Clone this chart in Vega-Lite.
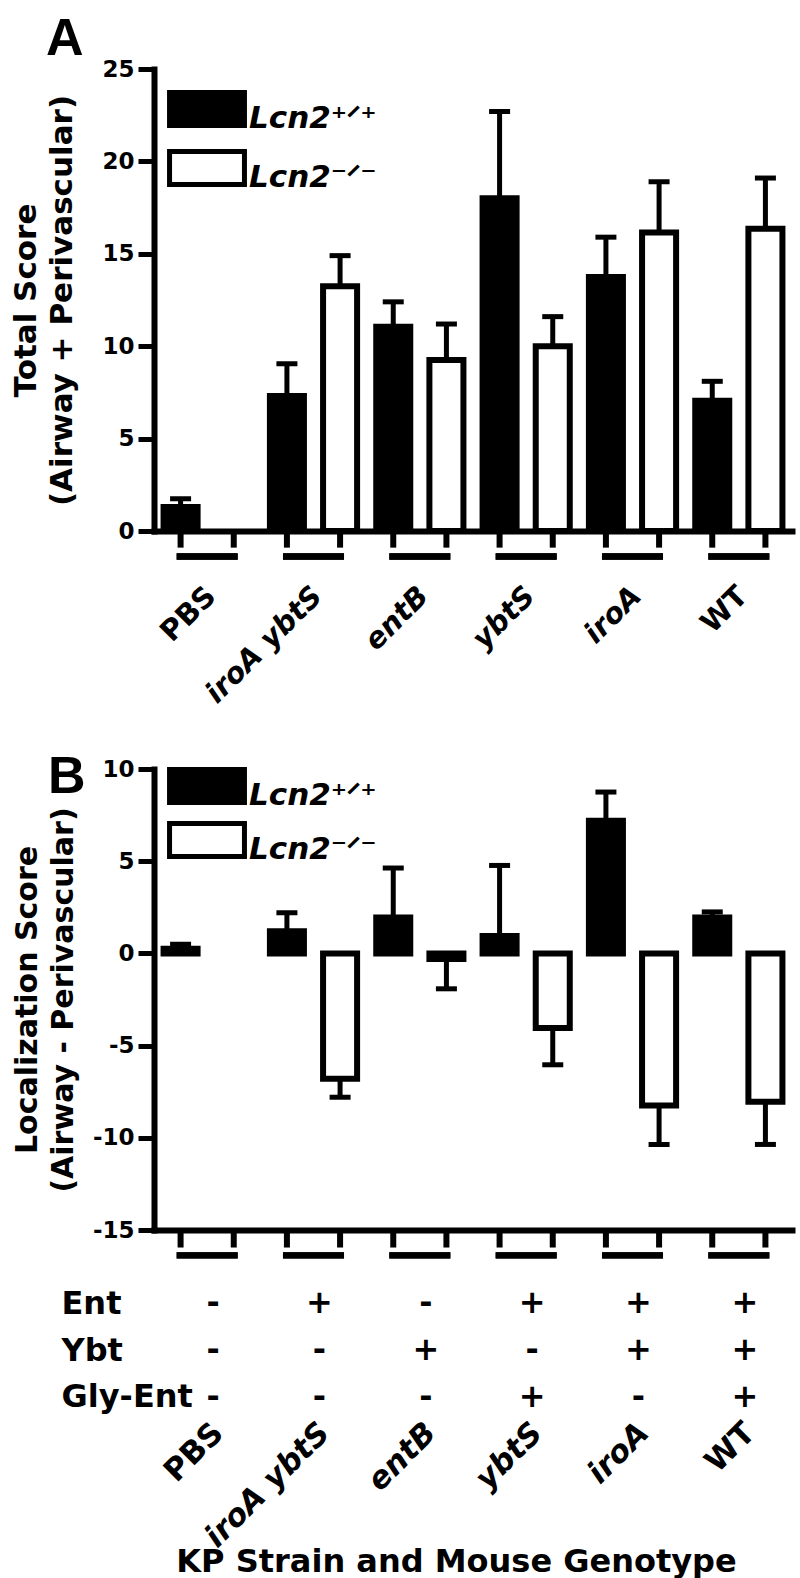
{
  "$schema": "https://vega.github.io/schema/vega-lite/v6.json",
  "background": "white",
  "padding": {"left": 10, "top": 13, "right": 5, "bottom": 3},
  "config": {
    "font": "DejaVu Sans",
    "view": {"stroke": null},
    "axis": {"labelFontWeight": "bold", "titleFontWeight": "bold", "labelColor": "black", "titleColor": "black", "domainColor": "black", "tickColor": "black", "grid": false}
  },
  "datasets": {
    "total": [
      {"strain": "PBS", "genotype": "+/+", "value": 1.3, "err": 1.75},
      {"strain": "PBS", "genotype": "-/-", "value": 0, "err": null},
      {"strain": "iroA ybtS", "genotype": "+/+", "value": 7.3, "err": 9.05},
      {"strain": "iroA ybtS", "genotype": "-/-", "value": 13.25, "err": 14.9},
      {"strain": "entB", "genotype": "+/+", "value": 11.05, "err": 12.4},
      {"strain": "entB", "genotype": "-/-", "value": 9.25, "err": 11.2},
      {"strain": "ybtS", "genotype": "+/+", "value": 18.0, "err": 22.7},
      {"strain": "ybtS", "genotype": "-/-", "value": 10.0, "err": 11.6},
      {"strain": "iroA", "genotype": "+/+", "value": 13.75, "err": 15.9},
      {"strain": "iroA", "genotype": "-/-", "value": 16.15, "err": 18.9},
      {"strain": "WT", "genotype": "+/+", "value": 7.05, "err": 8.1},
      {"strain": "WT", "genotype": "-/-", "value": 16.35, "err": 19.1}
    ],
    "loc": [
      {"strain": "PBS", "genotype": "+/+", "value": 0.25, "err": 0.5},
      {"strain": "PBS", "genotype": "-/-", "value": 0, "err": null},
      {"strain": "iroA ybtS", "genotype": "+/+", "value": 1.2, "err": 2.2},
      {"strain": "iroA ybtS", "genotype": "-/-", "value": -6.8, "err": -7.8},
      {"strain": "entB", "genotype": "+/+", "value": 1.95, "err": 4.63},
      {"strain": "entB", "genotype": "-/-", "value": -0.3, "err": -1.92},
      {"strain": "ybtS", "genotype": "+/+", "value": 0.95, "err": 4.77},
      {"strain": "ybtS", "genotype": "-/-", "value": -4.05, "err": -6.04},
      {"strain": "iroA", "genotype": "+/+", "value": 7.2, "err": 8.75},
      {"strain": "iroA", "genotype": "-/-", "value": -8.25, "err": -10.36},
      {"strain": "WT", "genotype": "+/+", "value": 1.95, "err": 2.25},
      {"strain": "WT", "genotype": "-/-", "value": -8.05, "err": -10.36}
    ],
    "table": [
      {"strain": "PBS", "row": "Ent", "sign": "-"},
      {"strain": "iroA ybtS", "row": "Ent", "sign": "+"},
      {"strain": "entB", "row": "Ent", "sign": "-"},
      {"strain": "ybtS", "row": "Ent", "sign": "+"},
      {"strain": "iroA", "row": "Ent", "sign": "+"},
      {"strain": "WT", "row": "Ent", "sign": "+"},
      {"strain": "PBS", "row": "Ybt", "sign": "-"},
      {"strain": "iroA ybtS", "row": "Ybt", "sign": "-"},
      {"strain": "entB", "row": "Ybt", "sign": "+"},
      {"strain": "ybtS", "row": "Ybt", "sign": "-"},
      {"strain": "iroA", "row": "Ybt", "sign": "+"},
      {"strain": "WT", "row": "Ybt", "sign": "+"},
      {"strain": "PBS", "row": "Gly-Ent", "sign": "-"},
      {"strain": "iroA ybtS", "row": "Gly-Ent", "sign": "-"},
      {"strain": "entB", "row": "Gly-Ent", "sign": "-"},
      {"strain": "ybtS", "row": "Gly-Ent", "sign": "+"},
      {"strain": "iroA", "row": "Gly-Ent", "sign": "-"},
      {"strain": "WT", "row": "Gly-Ent", "sign": "+"}
    ]
  },
  "spacing": 21,
  "resolve": {"scale": {"fill": "independent"}},
  "vconcat": [
    {
      "spacing": 42,
      "resolve": {"scale": {"fill": "independent"}},
      "vconcat": [
        {
          "width": 638,
          "height": 462,
          "title": {"text": "A", "anchor": "start", "frame": "group", "font": "Liberation Sans", "fontSize": 52, "fontWeight": "bold", "color": "black", "dx": -108, "dy": 8, "offset": 0},
          "data": {"name": "total"},
          "encoding": {
            "x": {
              "field": "strain", "type": "nominal",
              "sort": ["PBS", "iroA ybtS", "entB", "ybtS", "iroA", "WT"],
              "scale": {"paddingInner": 0, "paddingOuter": 0},
              "axis": {
                "title": null, "ticks": false, "tickSize": 0, "domainWidth": 6, "domainCap": "square",
                "labelAngle": -45, "labelAlign": "right", "labelBaseline": "middle",
                "labelFontSize": 29, "labelPadding": 60, "labelOffset": 4,
                "labelBound": false, "labelOverlap": false, "labelFlush": false,
                "labelFontStyle": {"condition": {"test": "datum.value == 'PBS' || datum.value == 'WT'", "value": "normal"}, "value": "italic"}
              }
            },
            "xOffset": {"field": "genotype", "type": "nominal", "scale": {"domain": ["+/+", "-/-"], "paddingInner": 0.36, "paddingOuter": 0.18}}
          },
          "layer": [
            {
              "transform": [{"filter": "datum.value != 0"}],
              "mark": {"type": "bar", "stroke": "black", "strokeWidth": 6},
              "encoding": {
                "y": {
                  "field": "value", "type": "quantitative",
                  "scale": {"domain": [0, 25], "nice": false},
                  "axis": {
                    "values": [0, 5, 10, 15, 20, 25],
                    "title": ["Total Score", "(Airway + Perivascular)"],
                    "titleFontSize": 31, "titleLineHeight": 36, "titlePadding": 23,
                    "labelFontSize": 23, "labelPadding": 4,
                    "tickSize": 16, "tickWidth": 5, "domainWidth": 6, "domainCap": "square"
                  }
                },
                "fill": {
                  "field": "genotype", "type": "nominal",
                  "scale": {"domain": ["+/+", "-/-"], "range": ["black", "white"]},
                  "legend": {
                    "orient": "none", "legendX": 34, "legendY": 31, "title": null, "padding": 0,
                    "symbolType": "M-2.27,-1.6H2.27V0.4H-2.27Z", "symbolSize": 1089,
                    "symbolStrokeColor": "black", "symbolStrokeWidth": 5,
                    "labelFontSize": 31, "labelFontStyle": "italic", "labelFontWeight": "bold", "labelColor": "black",
                    "labelOffset": 23, "rowPadding": 5, "labelBaseline": "middle",
                    "labelExpr": "datum.label === '+/+' ? 'Lcn2⁺ᐟ⁺' : 'Lcn2⁻ᐟ⁻'"
                  }
                }
              }
            },
            {
              "transform": [{"filter": "datum.err != null"}],
              "mark": {"type": "rule", "strokeWidth": 5, "color": "black"},
              "encoding": {"y": {"field": "value", "type": "quantitative"}, "y2": {"field": "err"}}
            },
            {
              "transform": [{"filter": "datum.err != null"}],
              "mark": {"type": "tick", "thickness": 5, "size": 21, "orient": "horizontal", "color": "black", "opacity": 1},
              "encoding": {"y": {"field": "err", "type": "quantitative"}}
            },
            {
              "mark": {"type": "rule", "strokeWidth": 6, "color": "black"},
              "encoding": {"y": {"datum": 0}, "y2": {"datum": -0.9}}
            },
            {
              "mark": {"type": "bar", "color": "black", "width": {"band": 0.574}},
              "encoding": {"xOffset": {"value": 0}, "y": {"datum": -1.2}, "y2": {"datum": -1.55}}
            }
          ]
        },
        {
          "width": 638,
          "height": 461,
          "title": {"text": "B", "anchor": "start", "frame": "group", "font": "Liberation Sans", "fontSize": 52, "fontWeight": "bold", "color": "black", "dx": -106, "dy": 46, "offset": 0},
          "data": {"name": "loc"},
          "encoding": {
            "x": {
              "field": "strain", "type": "nominal",
              "sort": ["PBS", "iroA ybtS", "entB", "ybtS", "iroA", "WT"],
              "scale": {"paddingInner": 0, "paddingOuter": 0},
              "axis": {"title": null, "ticks": false, "tickSize": 0, "labels": false, "domainWidth": 6, "domainCap": "square"}
            },
            "xOffset": {"field": "genotype", "type": "nominal", "scale": {"domain": ["+/+", "-/-"], "paddingInner": 0.36, "paddingOuter": 0.18}}
          },
          "layer": [
            {
              "mark": {"type": "rule", "strokeWidth": 7, "color": "black"},
              "encoding": {"xOffset": {"value": 0}, "y": {"datum": 0}}
            },
            {
              "transform": [{"filter": "datum.value != 0"}],
              "mark": {"type": "bar", "stroke": "black", "strokeWidth": 6},
              "encoding": {
                "y": {
                  "field": "value", "type": "quantitative",
                  "scale": {"domain": [-15, 10], "nice": false},
                  "axis": {
                    "values": [-15, -10, -5, 0, 5, 10],
                    "labelExpr": "'' + datum.value",
                    "title": ["Localization Score", "(Airway - Perivascular)"],
                    "titleFontSize": 30, "titleLineHeight": 36, "titlePadding": 14,
                    "labelFontSize": 23, "labelPadding": 4,
                    "tickSize": 16, "tickWidth": 5, "domainWidth": 6, "domainCap": "square"
                  }
                },
                "fill": {
                  "field": "genotype", "type": "nominal",
                  "scale": {"domain": ["+/+", "-/-"], "range": ["black", "white"]},
                  "legend": {
                    "orient": "none", "legendX": 34, "legendY": 8, "title": null, "padding": 0,
                    "symbolType": "M-2.27,-1.6H2.27V0.4H-2.27Z", "symbolSize": 1089,
                    "symbolStrokeColor": "black", "symbolStrokeWidth": 5,
                    "labelFontSize": 31, "labelFontStyle": "italic", "labelFontWeight": "bold", "labelColor": "black",
                    "labelOffset": 23, "rowPadding": 0, "labelBaseline": "middle",
                    "labelExpr": "datum.label === '+/+' ? 'Lcn2⁺ᐟ⁺' : 'Lcn2⁻ᐟ⁻'"
                  }
                }
              }
            },
            {
              "transform": [{"filter": "datum.err != null"}],
              "mark": {"type": "rule", "strokeWidth": 5, "color": "black"},
              "encoding": {"y": {"field": "value", "type": "quantitative"}, "y2": {"field": "err"}}
            },
            {
              "transform": [{"filter": "datum.err != null"}],
              "mark": {"type": "tick", "thickness": 5, "size": 21, "orient": "horizontal", "color": "black", "opacity": 1},
              "encoding": {"y": {"field": "err", "type": "quantitative"}}
            },
            {
              "mark": {"type": "rule", "strokeWidth": 6, "color": "black"},
              "encoding": {"y": {"datum": -15}, "y2": {"datum": -15.95}}
            },
            {
              "mark": {"type": "bar", "color": "black", "width": {"band": 0.574}},
              "encoding": {"xOffset": {"value": 0}, "y": {"datum": -16.2}, "y2": {"datum": -16.55}}
            }
          ]
        }
      ]
    },
    {
      "width": 638,
      "height": 140,
      "data": {"name": "table"},
      "mark": {"type": "text", "fontSize": 32, "fontWeight": "bold", "color": "black", "dx": 6},
      "encoding": {
        "x": {
          "field": "strain", "type": "nominal",
          "sort": ["PBS", "iroA ybtS", "entB", "ybtS", "iroA", "WT"],
          "scale": {"paddingInner": 0, "paddingOuter": 0},
          "axis": {
            "title": "KP Strain and Mouse Genotype", "titleFontSize": 32, "titleX": 302, "titleY": 151, "titleBaseline": "alphabetic",
            "domain": false, "ticks": false, "tickSize": 0,
            "labelAngle": -45, "labelAlign": "right", "labelBaseline": "middle",
            "labelFontSize": 31, "labelPadding": 8, "labelOffset": 11,
            "labelBound": false, "labelOverlap": false, "labelFlush": false,
            "labelFontStyle": {"condition": {"test": "datum.value == 'PBS' || datum.value == 'WT'", "value": "normal"}, "value": "italic"}
          }
        },
        "y": {
          "field": "row", "type": "nominal", "sort": ["Ent", "Ybt", "Gly-Ent"],
          "axis": {"title": null, "domain": false, "ticks": false, "tickSize": 0, "labelAlign": "left", "labelPadding": 93, "labelFontSize": 32}
        },
        "text": {"field": "sign"}
      }
    }
  ]
}
